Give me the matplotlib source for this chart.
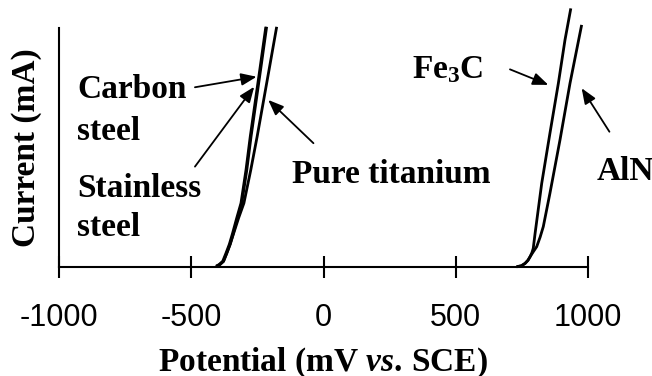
#!/usr/bin/env python3
"""
plot.py -- anodic polarization curves: carbon steel, stainless steel and pure
titanium against the Fe3C and AlN phases. Current is in arbitrary units (no
y ticks), potential in mV vs. SCE. Writes out.png.
"""

import matplotlib
matplotlib.use("Agg")
import matplotlib.pyplot as plt

SERIF = "Liberation Serif"
SANS = "Liberation Sans"

X_TICKS = [-1000, -500, 0, 500, 1000]

# Potential (mV vs. SCE) and current (arb. units, 0-100 = axis height)
CARBON_E = [-404, -392, -378, -366, -353, -341, -325, -309, -290, -274, -238, -215]
CARBON_I = [0.3, 1.0, 2.4, 5.7, 9.5, 14.0, 20.5, 26.7, 40.6, 54.5, 82.4, 100.5]

STAINLESS_E = [-407, -395, -381, -369, -356, -344, -328, -312, -293, -277, -241, -218]
STAINLESS_I = [0.3, 1.0, 2.4, 5.7, 9.5, 14.0, 20.5, 26.7, 40.6, 54.5, 82.4, 100.5]

TITANIUM_E = [-404, -392, -378, -366, -353, -340, -321, -301, -275, -251, -206, -177]
TITANIUM_I = [0.3, 1.0, 2.4, 5.7, 9.5, 14.0, 20.5, 26.7, 40.6, 54.5, 82.4, 100.5]

FE3C_E = [730, 748, 762, 773, 781, 788, 793, 800, 825, 856, 888, 913, 935]
FE3C_I = [0.1, 0.5, 1.5, 2.8, 4.3, 6.0, 7.8, 14.1, 35.0, 55.9, 76.9, 95.0, 108.2]

ALN_E = [730, 748, 762, 773, 781, 792, 806, 819, 831, 856, 894, 932, 976]
ALN_I = [0.1, 0.5, 1.5, 2.8, 4.3, 6.2, 8.5, 12.5, 16.9, 30.8, 53.1, 76.9, 101.3]

CURVES = [
    (CARBON_E, CARBON_I),
    (STAINLESS_E, STAINLESS_I),
    (TITANIUM_E, TITANIUM_I),
    (FE3C_E, FE3C_I),
    (ALN_E, ALN_I),
]


def label(ax, s, x, y) -> None:
    ax.text(x, y, s, fontfamily=SERIF, fontweight="bold", fontsize=24,
            ha="left", va="baseline", clip_on=False)


def arrow(ax, tail, tip) -> None:
    ax.annotate("", xy=tip, xytext=tail, annotation_clip=False,
                arrowprops=dict(arrowstyle="-|>,head_length=0.55,head_width=0.22",
                                mutation_scale=17, lw=1.3, color="black",
                                shrinkA=0, shrinkB=0))


def main() -> None:
    plt.rcParams["mathtext.fontset"] = "custom"
    plt.rcParams["mathtext.rm"] = f"{SERIF}:bold"
    plt.rcParams["mathtext.bf"] = f"{SERIF}:bold"
    plt.rcParams["mathtext.it"] = f"{SERIF}:bold:italic"

    fig = plt.figure(figsize=(6.52, 3.76), dpi=100)
    ax = fig.add_axes([59 / 652, 1 - 267 / 376, 529 / 652, 239 / 376])

    for e, i in CURVES:
        ax.plot(e, i, color="black", lw=2.0, clip_on=False,
                solid_capstyle="butt", solid_joinstyle="round")

    ax.set_xlim(-1000, 1000)
    ax.set_ylim(0, 100)
    for side in ("top", "right"):
        ax.spines[side].set_visible(False)
    for side in ("left", "bottom"):
        ax.spines[side].set_linewidth(1.5)
    ax.set_yticks([])
    ax.set_xticks(X_TICKS)
    ax.set_xticklabels([str(t) for t in X_TICKS], fontfamily=SANS, fontsize=22)
    ax.tick_params(axis="x", direction="inout", length=15.5, width=1.5, pad=18)

    # curve labels and leader arrows
    label(ax, "Carbon", -932, 70.6)
    label(ax, "steel", -932, 53.1)
    label(ax, "Stainless", -932, 29.4)
    label(ax, "steel", -932, 13.0)
    label(ax, "Pure titanium", -119, 35.0)
    label(ax, "Fe$_3$C", 335, 79.0)
    label(ax, "AlN", 1034, 36.4)

    arrow(ax, (-486, 75.2), (-253, 79.6))
    arrow(ax, (-486, 42.0), (-262, 75.4))
    arrow(ax, (-38, 51.8), (-209, 69.9))
    arrow(ax, (705, 82.7), (850, 76.2))
    arrow(ax, (1081, 56.6), (976, 74.8))

    fig.text(323 / 652, 1 - 371 / 376, r"Potential (mV $\mathit{vs.}\,$SCE)",
             fontfamily=SERIF, fontweight="bold", fontsize=24,
             ha="center", va="baseline")
    fig.text(26.5 / 652, 1 - 147.5 / 376, "Current (mA)", rotation=90,
             fontfamily=SERIF, fontweight="bold", fontsize=24,
             ha="center", va="center")

    fig.savefig("out.png", dpi=100)
    plt.close(fig)


if __name__ == "__main__":
    main()
